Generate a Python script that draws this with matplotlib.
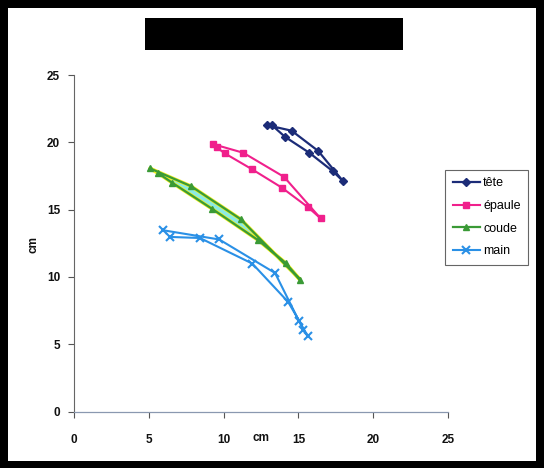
import matplotlib
matplotlib.use("Agg")
import matplotlib.pyplot as plt
from matplotlib.patches import Rectangle

plt.rcParams['font.family'] = ['Liberation Sans', 'DejaVu Sans']

# --- data (cm) ---
tete_x = [13.22, 14.10, 15.73, 17.29, 17.96, 16.33, 14.55, 12.88]
tete_y = [21.28, 20.41, 19.22, 17.86, 17.14, 19.35, 20.86, 21.28]

epaule_x = [9.54, 10.09, 11.88, 13.88, 15.66, 16.49, 14.04, 11.32, 9.27]
epaule_y = [19.62, 19.17, 18.01, 16.64, 15.16, 14.34, 17.43, 19.22, 19.87]

coude_x = [5.64, 6.57, 9.20, 12.32, 14.15, 15.11, 11.14, 7.82, 5.08]
coude_y = [17.69, 16.99, 15.08, 12.72, 11.03, 9.80, 14.29, 16.74, 18.06]

main_x = [6.42, 8.42, 11.92, 14.32, 15.06, 15.62, 15.33, 13.44, 9.71, 5.93]
main_y = [12.97, 12.89, 10.99, 8.13, 6.72, 5.60, 6.08, 10.29, 12.78, 13.47]

series_labels = ['tête', 'épaule', 'coude', 'main']
x_ticks = [0, 5, 10, 15, 20, 25]
y_ticks = [0, 5, 10, 15, 20, 25]

W, H = 544, 468
fig = plt.figure(figsize=(W / 100, H / 100), dpi=100, facecolor='black')

# white page inside black frame
fig.patches.append(Rectangle((8 / W, 1 - 461 / H), (536 - 8) / W, (461 - 8) / H,
                             transform=fig.transFigure, facecolor='white',
                             edgecolor='none', zorder=-10))
# redacted title block
fig.patches.append(Rectangle((145 / W, 1 - 50 / H), (403 - 145) / W, (50 - 18) / H,
                             transform=fig.transFigure, facecolor='black',
                             edgecolor='none', zorder=-9))

left, right = 74 / W, 448 / W
bottom, top = 1 - 411.5 / H, 1 - 75 / H
ax = fig.add_axes([left, bottom, right - left, top - bottom])
ax.set_facecolor('none')
ax.set_zorder(5)

c_tete = '#1c2c78'
c_ep = '#f0208c'
c_coude = '#3a9a36'
c_main = '#2a90e6'

# coude: cyan fill between paths and yellow halo
ax.fill(coude_x, coude_y, color='#6fe6de', alpha=0.8, lw=0, zorder=1)
ax.plot(coude_x + coude_x[:1], coude_y + coude_y[:1], color='#f2f020', lw=2.6, zorder=2,
        solid_capstyle='round')

ax.plot(tete_x, tete_y, color=c_tete, marker='D', ms=4.5, lw=1.6, label=series_labels[0], zorder=4)
ax.plot(epaule_x, epaule_y, color=c_ep, marker='s', ms=5, lw=1.5, label=series_labels[1], zorder=4)
ax.plot(coude_x, coude_y, color=c_coude, marker='^', ms=5, lw=1.6, label=series_labels[2], zorder=3)
ax.plot(main_x, main_y, color=c_main, marker='x', ms=6, mew=1.5, lw=1.5, label=series_labels[3], zorder=4)

ax.set_xlim(0, 25)
ax.set_ylim(0, 25)
ax.set_xticks(x_ticks)
ax.set_yticks(y_ticks)
ax.tick_params(axis='both', labelsize=8.5, length=4, width=0.8, colors='#555555',
               labelcolor='#111111')
ax.tick_params(axis='y', pad=6)
ax.tick_params(axis='x', pad=12)
for lab in ax.get_xticklabels() + ax.get_yticklabels():
    lab.set_fontweight('bold')

for s in ['top', 'right']:
    ax.spines[s].set_visible(False)
ax.spines['left'].set_color('#666666')
ax.spines['left'].set_linewidth(0.8)
ax.spines['bottom'].set_color('#8a98b0')
ax.spines['bottom'].set_linewidth(0.9)

ax.set_xlabel('cm', fontsize=8.5, fontweight='bold', color='#111111')
ax.xaxis.set_label_coords(0.5, -0.062)
ax.set_ylabel('cm', fontsize=8.5, fontweight='bold', color='#111111')
ax.yaxis.set_label_coords(-0.092, 0.495)

leg = ax.legend(loc='upper left', bbox_to_anchor=(445 / W, 1 - 170 / H),
                bbox_transform=fig.transFigure, fontsize=9, frameon=True,
                fancybox=False, edgecolor='#666666', framealpha=1,
                handlelength=2.2, handletextpad=0.25, labelspacing=0.85,
                borderpad=0.6, borderaxespad=0)
leg.get_frame().set_linewidth(0.8)

fig.savefig('out.png', dpi=100, facecolor='black')
